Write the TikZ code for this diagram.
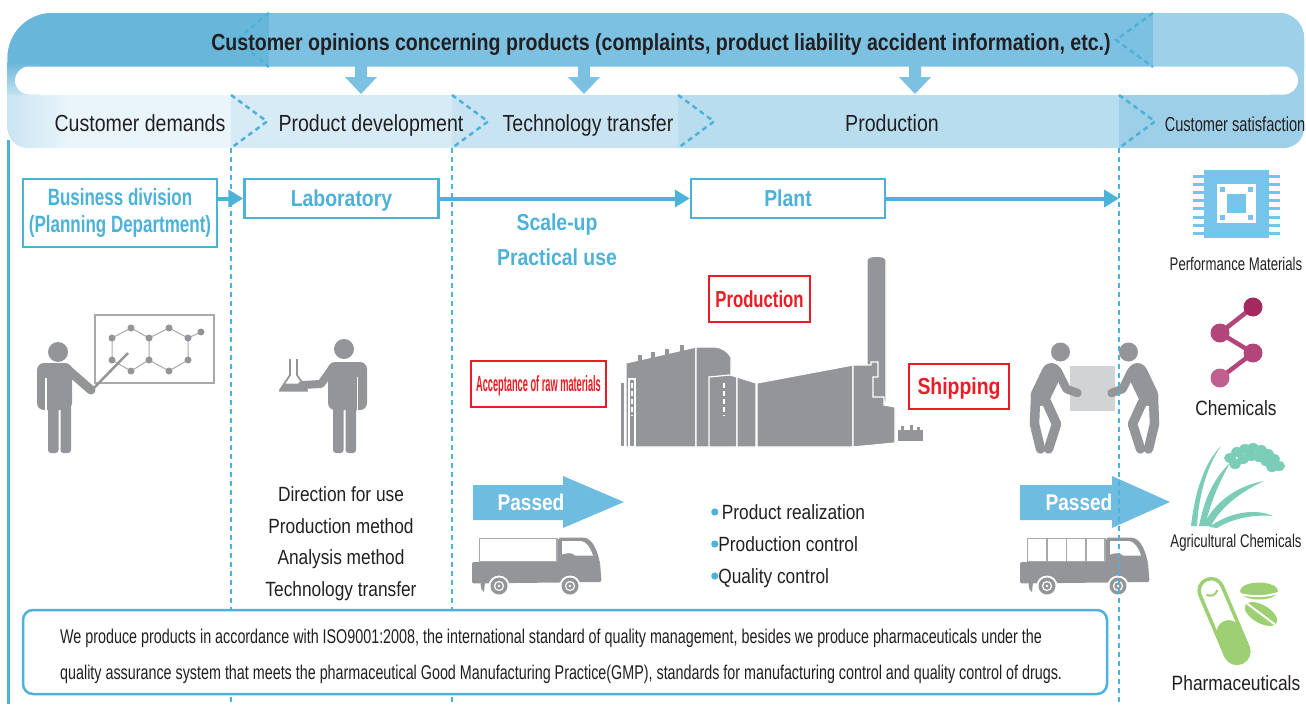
\documentclass[tikz,border=0pt]{standalone}
\usepackage{fontspec}
\setmainfont{Liberation Sans}[FakeStretch=0.84]
\newfontfamily\narrowfont{Liberation Sans}[FakeStretch=0.72]
\newfontfamily\slimfont{Liberation Sans}[FakeStretch=0.42]
\usetikzlibrary{arrows.meta}

\definecolor{topmid}{HTML}{7CC1E1}
\definecolor{topleft}{HTML}{68B7DB}
\definecolor{topright}{HTML}{9DD1E9}
\definecolor{cdleft}{HTML}{C6E3F1}
\definecolor{cdband}{HTML}{EAF5FB}
\definecolor{pdband}{HTML}{D7EBF6}
\definecolor{ttband}{HTML}{C8E4F2}
\definecolor{prband}{HTML}{B7DDEF}
\definecolor{csband}{HTML}{9DD0E8}
\definecolor{linkblue}{HTML}{4CB2D9}
\definecolor{passblue}{HTML}{6EBCDF}
\definecolor{figgray}{HTML}{939598}
\definecolor{boardgray}{HTML}{A7A9AC}
\definecolor{boxgray}{HTML}{D1D3D4}
\definecolor{labelred}{HTML}{ED1C24}
\definecolor{inkgray}{HTML}{231F20}
\definecolor{chipblue}{HTML}{74C4EC}
\definecolor{chemtop}{HTML}{A22A5E}
\definecolor{chemmid}{HTML}{B2457A}
\definecolor{chemlow}{HTML}{C0608F}
\definecolor{agrigreen}{HTML}{7BCDB7}
\definecolor{pharmagreen}{HTML}{9DD072}

\newcommand{\dotmark}{\tikz[baseline=-7pt]\fill[linkblue] (0pt,0pt) circle (3.6pt);}

\tikzset{
  bandlabel/.style={anchor=base, inner sep=0pt, text=inkgray, font=\fontsize{23.3}{28}\selectfont},
  stagebox/.style={draw=linkblue, line width=2.5pt, fill=white, text=linkblue, inner sep=0pt, minimum width=194pt},
  labbox/.style={stagebox, minimum height=39pt, text height=16.5pt, text depth=0pt, font=\bfseries\fontsize{23.1}{28}\selectfont},
  redbox/.style={draw=labelred, line width=2.3pt, fill=white, text=labelred, inner sep=0pt, text depth=0pt},
  bluetext/.style={anchor=base, inner sep=0pt, text=linkblue, font=\bfseries\fontsize{23.1}{28}\selectfont},
  steptext/.style={anchor=base, inner sep=0pt, text=inkgray, font=\fontsize{20.6}{24}\selectfont},
  sidelabel/.style={anchor=base, inner sep=0pt, text=inkgray},
  linkarrow/.style={linkblue, line width=4pt, -{Triangle[length=15pt,width=17pt]}},
  divline/.style={linkblue, line width=2.5pt, dash pattern=on 5pt off 4pt},
  passtext/.style={inner sep=0pt, text=white, font=\bfseries\fontsize{22.7}{27}\selectfont},
  truck/.pic={
    % 车厢
    \filldraw[fill=white, draw=boardgray, line width=1.5pt] (7.5,1.5) rectangle (85,25);
    % 驾驶室
    \fill[figgray] (86,26) -- (86,3) -- (88,0.5) -- (111,0.5) .. controls (119,1) and (123,9) .. (126,18) -- (128,26) -- cycle;
    \fill[white] (90,4) -- (109,4) .. controls (114,4.5) and (118,10) .. (121,18.5) -- (103,18.5) .. controls (100,15) and (95,16) .. (90,17.5) -- cycle;
    % 底盘
    \fill[figgray, rounded corners=2pt] (0,25) -- (128,25) -- (129.5,45) -- (0,46.5) -- cycle;
    % 车轮
    \foreach \wx in {27,98} {
      \fill[white] (\wx,49) circle (10.5pt);
      \fill[figgray] (\wx,49) circle (8.5pt);
      \draw[white, line width=1.2pt] (\wx,49) circle (4.5pt);
      \fill[white] (\wx,49) circle (1.3pt);
    }
    \fill[figgray] (9,45) .. controls (8,49) and (9,53) .. (12,55) -- (13,45) -- cycle;
  },
  carrier/.pic={
    \fill[figgray] (0,0) circle (9.5pt);
    \draw[figgray, line width=20pt, line cap=round] (-9,21) -- (-20,44);
    \draw[figgray, line width=8.5pt, line cap=round, line join=round] (-3,19) -- (6,37) -- (17,41);
    \draw[figgray, line width=9.5pt, line cap=round, line join=round] (-25,47) -- (-26,72) -- (-20,97);
    \draw[figgray, line width=9.5pt, line cap=round, line join=round] (-14,50) -- (-4,72) -- (-12,97);
  }
}

\begin{document}
\begin{tikzpicture}[x=1pt, y=-1pt]
\useasboundingbox (0,0) rectangle (1306,704);

% 顶部反馈带和阶段带
\begin{scope}
  \clip (7.5,58) .. controls (7.5,33) and (27.5,13) .. (52.5,13) -- (1279,13)
    .. controls (1293,13) and (1304,24) .. (1304,38) -- (1304,128)
    .. controls (1304,139) and (1295,148) .. (1284,148) -- (27.5,148)
    .. controls (16.5,148) and (7.5,139) .. (7.5,128) -- cycle;
  \fill[topmid] (0,0) rectangle (1306,67);
  \fill[topleft] (0,0) rectangle (269,67);
  \fill[topright] (1153,0) rectangle (1306,67);
  \shade[top color=topleft, bottom color=cdleft] (0,62) rectangle (40,96);
  \shade[top color=topright, bottom color=csband] (1270,62) rectangle (1306,96);
  \shade[left color=cdleft, right color=cdband] (0,95) rectangle (70,150);
  \fill[cdband] (70,95) rectangle (231,150);
  \fill[pdband] (231,95) rectangle (452,150);
  \fill[ttband] (452,95) rectangle (678,150);
  \fill[prband] (678,95) rectangle (1119,150);
  \fill[csband] (1119,95) rectangle (1306,150);
\end{scope}
\fill[white, rounded corners=14pt] (15,66.5) rectangle (1298,94.5);

% 虚线折角
\draw[divline] (269,13) -- (236,40) -- (269,67);
\draw[divline] (1153,13) -- (1116,40) -- (1153,67);
\foreach \cx in {231,452,678,1119}
  \draw[divline] (\cx,95) -- (\cx+36,121.5) -- (\cx,148);

% 向下的箭头
\foreach \ax in {361,584,915}
  \fill[topmid] (\ax-6,66) -- (\ax+6,66) -- (\ax+6,77) -- (\ax+16,77) -- (\ax,94) -- (\ax-16,77) -- (\ax-6,77) -- cycle;

% 带上的文字
\node[bandlabel, font=\bfseries\fontsize{23.3}{28}\selectfont] (voice) at (661,50) {Customer opinions concerning products (complaints, product liability accident information, etc.)};
\node[bandlabel] (demand) at (140,131) {Customer demands};
\node[bandlabel] (develop) at (371,131) {Product development};
\node[bandlabel] (techstage) at (588,131) {Technology transfer};
\node[bandlabel] (prodstage) at (892,131) {Production};
\node[bandlabel, font=\narrowfont\fontsize{20.3}{24}\selectfont] (satisf) at (1235,131) {Customer satisfaction};

% 左边框
\draw[linkblue, line width=2.5pt] (8.7,140) -- (8.7,704);

% 白板和讲解的人
\draw[boardgray, line width=2pt] (95,315) rectangle (214,383);
\draw[boardgray, line width=1pt] (112,338) -- (131,328) -- (149,338) -- (169,328) -- (188,338) -- (201,332)
  (188,338) -- (188,360) -- (169,371) -- (149,360) -- (131,371) -- (112,360) -- (112,338)
  (149,338) -- (149,360);
\foreach \p in {(112,338),(131,328),(149,338),(149,360),(131,371),(112,360),(169,328),(188,338),(188,360),(169,371),(201,332)}
  \fill[figgray] \p circle (3.5pt);
\fill[figgray] (58,352) circle (10pt);
\fill[figgray, rounded corners=7pt] (37,410) -- (37,363) -- (72,363) -- (72,410) -- cycle;
\draw[white, line width=1.2pt] (46,378) -- (46,412);
\fill[figgray, rounded corners=3pt] (48,405) rectangle (58.5,453);
\fill[figgray, rounded corners=3pt] (60.5,405) rectangle (71,453);
\draw[figgray, line width=9pt, line cap=round] (67,369) -- (91,390);
\draw[figgray, line width=2.5pt] (92,390) -- (128,353);

% 拿烧瓶的人
\draw[figgray, line width=1.8pt, line join=round] (290,359) -- (290,375) -- (280,390) -- (307,390) -- (297,375) -- (297,359);
\fill[figgray] (284,383.5) -- (303,383.5) -- (308,391.5) -- (279,391.5) -- cycle;
\fill[figgray] (344,349) circle (10pt);
\fill[figgray, rounded corners=7pt] (328,410) -- (328,362) -- (367,362) -- (367,410) -- cycle;
\draw[white, line width=1.2pt] (357.5,377) -- (357.5,412);
\draw[figgray, line width=8pt, line cap=round, line join=round] (333,367) -- (321,384) -- (302,385);
\fill[figgray, rounded corners=3pt] (333,405) rectangle (343.5,453);
\fill[figgray, rounded corners=3pt] (345.5,405) rectangle (356,453);

% 工厂
\begin{scope}[fill=figgray, draw=white, line width=1.2pt]
  \filldraw (867,402) -- (867,260) .. controls (867,255) and (886,255) .. (886,260) -- (886,402) -- cycle;
  \filldraw (620,382) rectangle (624.5,447);
  \filldraw (626,447) -- (626,363) -- (696,347) -- (696,447) -- cycle;
  \fill (638,354.5) rectangle (642,361);
  \fill (651,351.5) rectangle (655,358);
  \fill (665,348.5) rectangle (669,355);
  \fill (680,345) rectangle (684,352);
  \filldraw (696,447) -- (696,347) -- (714,347) .. controls (722,347) and (728,352) .. (731,357) -- (731,447) -- cycle;
  \filldraw (709,447) -- (709,377) -- (730,375) -- (737,377) -- (737,447) -- cycle;
  \filldraw (737,447) -- (737,377) -- (756,383) -- (756,447) -- cycle;
  \filldraw (757,447) -- (757,383) -- (853,365) -- (853,447) -- cycle;
  \filldraw (853,447) -- (853,365) -- (871,365) -- (871,362) -- (878,362) -- (878,377) -- (873,377) -- (873,397) -- (884,397) -- (884,405) -- (895,407) -- (895,443) -- cycle;
  \fill (898,430) rectangle (923,441);
  \fill (901,426) rectangle (904,430);
  \fill (910,425) rectangle (913,430);
  \fill (917,427) rectangle (920,430);
  \draw (629,379) rectangle (635,447);
  \draw[dash pattern=on 5pt off 3pt] (632,383) -- (632,416);
  \draw[dash pattern=on 5pt off 3pt] (724,383) -- (724,416);
\end{scope}

% 红色标签
\node[redbox, minimum width=101pt, minimum height=46pt, text height=16.6pt, font=\narrowfont\bfseries\fontsize{23.2}{28}\selectfont] (makebox) at (759.5,299) {Production};
\node[redbox, minimum width=135pt, minimum height=46pt, text height=15.8pt, font=\slimfont\bfseries\fontsize{22}{26}\selectfont] (rawbox) at (538.5,384) {Acceptance of raw materials};
\node[redbox, minimum width=100pt, minimum height=45pt, text height=16.5pt, font=\bfseries\fontsize{23.1}{28}\selectfont] (shipbox) at (959,386.5) {Shipping};

% 搬箱子的两个人
\fill[boxgray] (1070,366) rectangle (1115,411);
\pic at (1060.5,352) {carrier};
\pic[xscale=-1] at (1128.5,352) {carrier};

% 合格箭头和卡车
\fill[passblue] (473,485) -- (563,485) -- (563,476) -- (624,502) -- (563,528) -- (563,520) -- (473,520) -- cycle;
\node[passtext] (passed1) at (531,502) {Passed};
\fill[passblue] (1020,485) -- (1112,485) -- (1112,476) -- (1170,502) -- (1112,528) -- (1112,520) -- (1020,520) -- cycle;
\node[passtext] (passed2) at (1079,502) {Passed};
\pic at (472,537) {truck};
\pic at (1020,537) {truck};
\foreach \dx in {1047,1066.5,1086}
  \draw[boardgray, line width=1.5pt] (\dx,538.5) -- (\dx,562);

% 技术资料和生产管理
\node[steptext] (usage) at (341,501) {Direction for use};
\node[steptext] (method) at (341,533) {Production method};
\node[steptext] (analysis) at (341,564.5) {Analysis method};
\node[steptext] (techtransfer) at (341,596) {Technology transfer};
\node[steptext, anchor=base west] (realize) at (711,519) {\dotmark\,Product realization};
\node[steptext, anchor=base west] (prodctl) at (711,551) {\dotmark Production control};
\node[steptext, anchor=base west] (qualctl) at (711,583) {\dotmark Quality control};

% 右侧产品图标
\fill[chipblue] (1204,170) rectangle (1269,238);
\foreach \k in {0,...,7} {
  \fill[chipblue] (1193,174.5+8.2*\k) rectangle (1204,177.5+8.2*\k);
  \fill[chipblue] (1269,174.5+8.2*\k) rectangle (1280,177.5+8.2*\k);
}
\fill[white] (1217,184) rectangle (1256,223);
\fill[chipblue] (1227,194) rectangle (1246,213);
\foreach \qx/\qy in {1220/187,1248/187,1220/215,1248/215}
  \fill[chipblue] (\qx,\qy) rectangle ++(5,5);
\node[sidelabel, font=\narrowfont\fontsize{18.3}{22}\selectfont] (perf) at (1236,270) {Performance Materials};

\draw[chemmid, line width=4.5pt] (1253,307) -- (1220,333) -- (1253,353) -- (1220,378);
\fill[chemtop] (1253,307) circle (9.5pt);
\fill[chemmid] (1220,333) circle (9.5pt);
\fill[chemmid] (1253,353) circle (9.5pt);
\fill[chemlow] (1220,378) circle (9.5pt);
\node[sidelabel, font=\fontsize{20.7}{25}\selectfont] (chem) at (1236,415) {Chemicals};

\fill[agrigreen] (1191,526) .. controls (1195,490) and (1205,462) .. (1221,446) .. controls (1208,465) and (1199,492) .. (1197,526) -- cycle;
\fill[agrigreen] (1199,526) .. controls (1205,495) and (1216,476) .. (1230,463) .. controls (1221,479) and (1211,500) .. (1205,526) -- cycle;
\fill[agrigreen] (1203,526) .. controls (1215,500) and (1240,485) .. (1264,481) .. controls (1240,492) and (1220,508) .. (1211,526) -- cycle;
\fill[agrigreen] (1209,527) .. controls (1230,512) and (1255,508) .. (1273,516) .. controls (1250,514) and (1230,520) .. (1217,528) -- cycle;
\foreach \p in {(1230,458),(1237,452),(1245,449),(1253,448),(1261,450),(1268,454),(1274,459),(1279,466),
                (1235,464),(1243,459),(1251,456),(1259,457),(1266,461),(1272,467)}
  \fill[agrigreen] \p ellipse (6pt and 5pt);
\node[sidelabel, font=\narrowfont\fontsize{18.3}{22}\selectfont] (agri) at (1236,547) {Agricultural Chemicals};

\begin{scope}[shift={(1224,621)}, rotate=23]
  \fill[pharmagreen, rounded corners=12pt] (-12,0) rectangle (12,45);
  \draw[pharmagreen, line width=3.5pt, rounded corners=12pt] (-12,-45) rectangle (12,45);
  \draw[pharmagreen, line width=2pt] (-6,-31) .. controls (-2,-27) and (2,-27) .. (6,-31);
\end{scope}
\fill[pharmagreen] (1259,591) ellipse (19pt and 8.5pt);
\draw[white, line width=2pt] (1240,594) .. controls (1252,597) and (1266,597) .. (1278,593);
\fill[pharmagreen, rotate around={-30:(1261,614)}] (1261,614) ellipse (18pt and 9pt);
\draw[white, line width=2pt, rotate around={-30:(1261,614)}] (1244,612) -- (1278,616);
\node[sidelabel, font=\fontsize{20.7}{25}\selectfont] (pharma) at (1236,690) {Pharmaceuticals};

% 虚线分区
\foreach \cx in {231,452,1119}
  \draw[divline] (\cx,148) -- (\cx,704);

% 部门方框和箭头
\node[stagebox, minimum height=68pt, align=center, font=\narrowfont\bfseries\fontsize{23.6}{27}\selectfont] (biz) at (120,213) {Business division\\(Planning Department)};
\node[labbox] (lab) at (341.5,198.5) {Laboratory};
\node[labbox] (plant) at (788,198.5) {Plant};
\coordinate (sat) at (1119,198.5);
\draw[linkarrow] (biz.east |- lab.west) -- (lab.west);
\draw[linkarrow] (lab.east) -- (plant.west);
\draw[linkarrow] (plant.east) -- (sat);
\node[bluetext] (scaleup) at (557,230) {Scale-up};
\node[bluetext] (practical) at (557,265) {Practical use};

% 底部说明框
\node[draw=linkblue, line width=2.5pt, fill=white, rounded corners=10pt, minimum width=1084pt, minimum height=84pt, inner sep=0pt] (qualitynote) at (565,652) {};
\node[anchor=west, inner sep=0pt, align=left, text=inkgray, font=\narrowfont\fontsize{19.9}{36}\selectfont] (notetext) at (60,656) {We produce products in accordance with ISO9001:2008, the international standard of quality management, besides we produce pharmaceuticals under the\\quality assurance system that meets the pharmaceutical Good Manufacturing Practice(GMP), standards for manufacturing control and quality control of drugs.};

\end{tikzpicture}
\end{document}
